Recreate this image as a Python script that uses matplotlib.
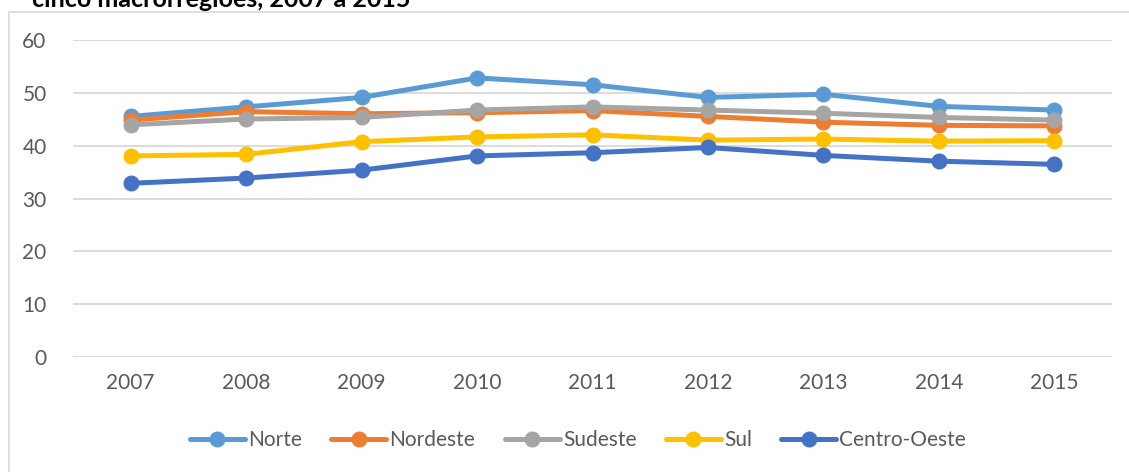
import matplotlib
matplotlib.use('Agg')
import matplotlib.pyplot as plt
from matplotlib.patches import Rectangle

plt.rcParams['font.family'] = ['Lato', 'DejaVu Sans']

# dados
anos = ['2007', '2008', '2009', '2010', '2011', '2012', '2013', '2014', '2015']
norte = [45.6, 47.4, 49.2, 52.9, 51.6, 49.2, 49.8, 47.5, 46.8]
nordeste = [44.9, 46.5, 46.1, 46.3, 46.7, 45.6, 44.5, 43.9, 43.8]
sudeste = [44.0, 45.1, 45.4, 46.8, 47.4, 46.8, 46.2, 45.4, 44.9]
sul = [38.1, 38.4, 40.8, 41.7, 42.1, 41.1, 41.3, 40.9, 41.0]
centro_oeste = [32.9, 33.9, 35.4, 38.1, 38.7, 39.7, 38.2, 37.1, 36.5]

series = [('Norte', norte, '#5B9BD5'),
          ('Nordeste', nordeste, '#ED7D31'),
          ('Sudeste', sudeste, '#A5A5A5'),
          ('Sul', sul, '#FFC000'),
          ('Centro-Oeste', centro_oeste, '#4472C4')]

W, H = 1129, 472
fig = plt.figure(figsize=(W / 100, H / 100), dpi=100)
ax = fig.add_axes([73 / W, 1 - 356.7 / H, (1112 - 73) / W, (356.7 - 40.5) / H])

# borda da area do grafico (cortada na imagem)
fig.patches.append(Rectangle((9 / W, -0.2), 1.2, 1 - 12 / H + 0.2, transform=fig.transFigure,
                             fill=False, edgecolor='#D9D9D9', linewidth=1.2))

x = list(range(len(anos)))
for nome, vals, cor in series:
    ax.plot(x, vals, color=cor, linewidth=3.6, marker='o', markersize=10.5,
            solid_capstyle='round', label=nome, clip_on=False)

ax.set_xlim(-0.5, len(anos) - 0.5)
ax.set_ylim(0, 60)
ax.set_yticks(range(0, 61, 10))
ax.set_xticks(x)
ax.set_xticklabels(anos)
ax.grid(axis='y', color='#D9D9D9', linewidth=1.3)
ax.set_axisbelow(True)
for s in ax.spines.values():
    s.set_visible(False)
ax.tick_params(length=0, labelsize=15, colors='#595959')
ax.tick_params(axis='y', pad=19)
ax.tick_params(axis='x', pad=12)

fig.legend(loc='center', bbox_to_anchor=(578 / W, 1 - 440 / H), ncol=5, frameon=False,
           fontsize=15, handlelength=2.65, handletextpad=0.15, columnspacing=1.4,
           labelcolor='#595959')

# titulo cortado no topo da imagem
fig.text(32 / W, 1 - 7 / H, 'cinco macrorregiões, 2007 a 2015', fontsize=18,
         fontweight='bold', color='black', va='baseline', ha='left')

fig.savefig('out.png', dpi=100)
